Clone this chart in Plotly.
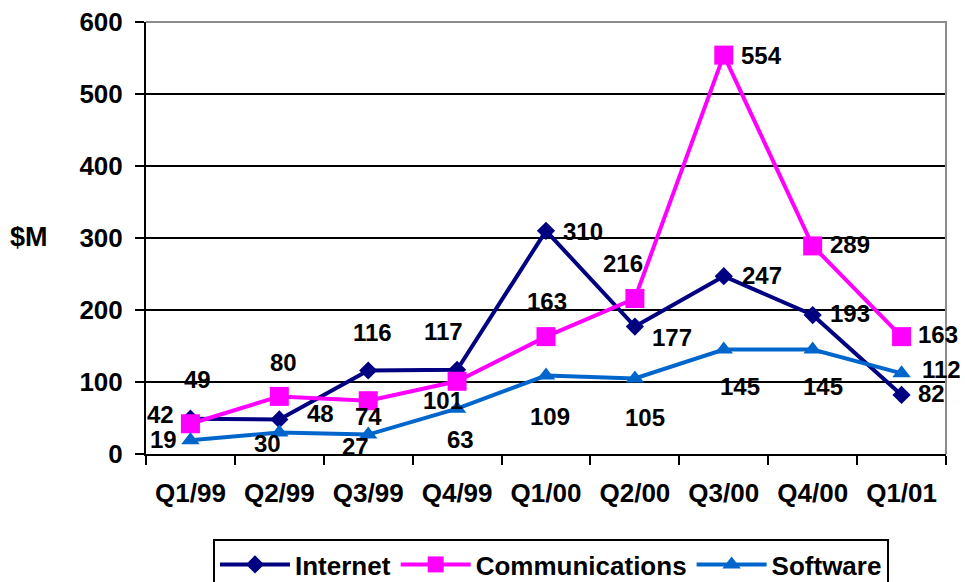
import plotly.graph_objects as go

quarters = ["Q1/99", "Q2/99", "Q3/99", "Q4/99", "Q1/00", "Q2/00", "Q3/00", "Q4/00", "Q1/01"]
internet = [49, 48, 116, 117, 310, 177, 247, 193, 82]
communications = [42, 80, 74, 101, 163, 216, 554, 289, 163]
software = [19, 30, 27, 63, 109, 105, 145, 145, 112]
y_ticks = [0, 100, 200, 300, 400, 500, 600]

# label offsets in pixels (dx, dy up)
internet_off = [(7, 39), (41, 6), (4, 38), (-14, 38), (37, -1), (37, -11), (38, 1), (37, 2), (30, 1)]
comm_off = [(-30, 9), (4, 34), (0, -16), (-14, -19), (1, 35), (-12, 35), (38, 0), (37, 1), (36, 2)]
soft_off = [(-27, 1), (-12, -11), (-13, -12), (3, -31), (4, -41), (10, -39), (16, -37), (10, -37), (40, 4)]

FONT = "Liberation Sans, Arial, sans-serif"
series = [
    ("Internet", internet, "#000080", "diamond", 14, internet_off),
    ("Communications", communications, "#FF00FF", "square", 19, comm_off),
    ("Software", software, "#0066CC", "triangle-up", 16, soft_off),
]

fig = go.Figure()
annotations = []
for name, vals, color, sym, msize, offs in series:
    fig.add_trace(go.Scatter(
        x=quarters, y=vals, name=name, mode="lines+markers",
        line=dict(color=color, width=4),
        marker=dict(symbol=sym, size=msize, color=color),
    ))
    for q, v, (dx, dy) in zip(quarters, vals, offs):
        annotations.append(dict(
            x=q, y=v, xref="x", yref="y", text="<b>%d</b>" % v, showarrow=False,
            xshift=dx, yshift=dy, font=dict(family=FONT, size=24, color="black"),
        ))

annotations.append(dict(
    x=(29 - 146) / 800, y=(454 - 237) / 432, xref="paper", yref="paper",
    xanchor="center", yanchor="middle",
    text="<b>$M</b>", showarrow=False,
    font=dict(family=FONT, size=27, color="black"),
))

fig.update_layout(
    width=965, height=582,
    margin=dict(l=146, r=19, t=22, b=128, autoexpand=False),
    paper_bgcolor="white", plot_bgcolor="white",
    font=dict(family=FONT, size=26, color="black", weight="bold"),
    showlegend=True,
    legend=dict(
        orientation="h", x=(551 - 146) / 800, xanchor="center",
        y=(454 - 539) / 432, yanchor="top",
        bordercolor="black", borderwidth=2, bgcolor="white",
        font=dict(family=FONT, size=26, color="black", weight="bold"),
        itemwidth=70, tracegroupgap=0,
    ),
    xaxis=dict(
        type="category", range=[-0.5, 8.5], showgrid=False,
        showline=True, linecolor="black", linewidth=2,
        ticks="outside", ticklen=9, tickwidth=2, tickcolor="black",
        tickson="boundaries", ticklabelstandoff=15,
        tickfont=dict(family=FONT, size=26, color="black", weight="bold"),
    ),
    yaxis=dict(
        range=[0, 600], tickvals=y_ticks, showgrid=True, gridcolor="black", gridwidth=2,
        showline=True, linecolor="black", linewidth=2, zeroline=False,
        ticks="outside", ticklen=9, tickwidth=2, tickcolor="black",
        ticklabelstandoff=7,
        tickfont=dict(family=FONT, size=26, color="black", weight="bold"),
    ),
    annotations=annotations,
    shapes=[dict(type="path", xref="paper", yref="paper",
                 path="M 0,1 L 1,1 L 1,0", line=dict(color="#8c8c8c", width=2), layer="above")],
)

fig.write_html("out.html")
